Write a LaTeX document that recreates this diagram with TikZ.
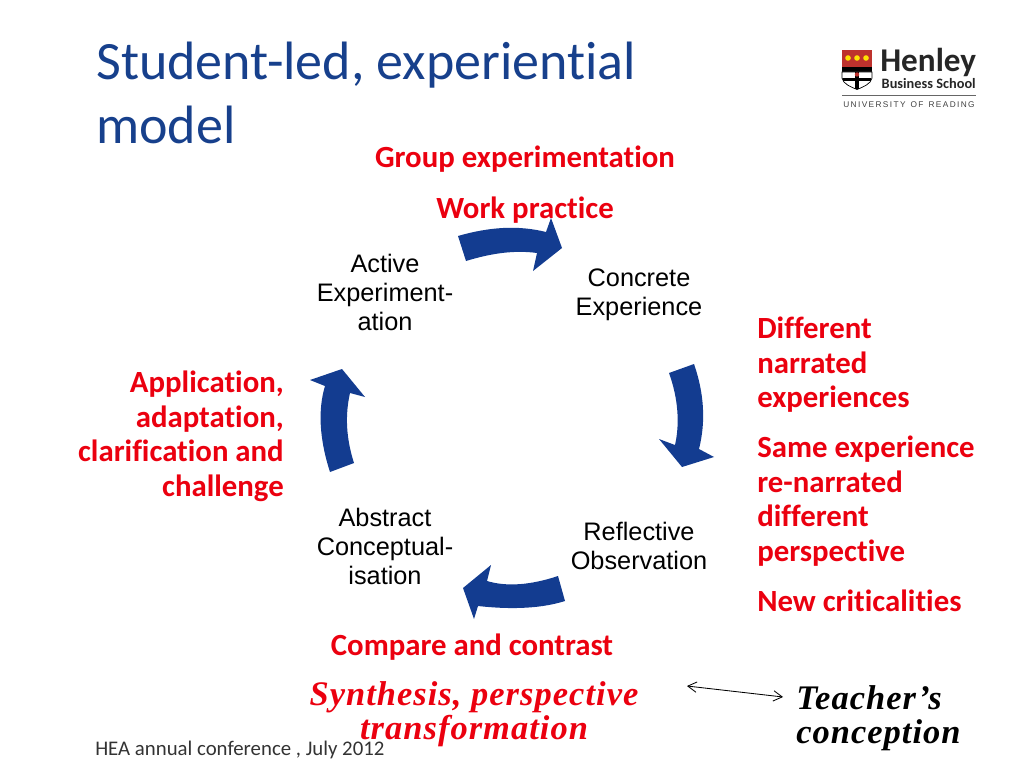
\documentclass[tikz,border=0pt]{standalone}
\usepackage{fontspec}
\usetikzlibrary{arrows.meta}
\setmainfont[Ligatures=NoCommon]{Carlito}
\newfontfamily\armoid{Liberation Sans}
\newfontfamily\handf[LetterSpace=3]{Liberation Serif}
\definecolor{titleblue}{RGB}{23,64,140}
\definecolor{flowblue}{RGB}{19,60,144}
\definecolor{rednote}{RGB}{235,0,15}
\definecolor{shieldred}{RGB}{190,50,45}
\tikzset{
  stage/.style={align=center,font=\armoid\fontsize{18}{20.6}\selectfont},
  note/.style={text=rednote,font=\bfseries\fontsize{21.9}{24.5}\selectfont,inner sep=0pt},
  hand/.style={font=\handf\bfseries\itshape\fontsize{24.5}{24.2}\selectfont,inner sep=0pt},
  flow/.style={fill=flowblue,draw=none}
}
\begin{document}
\begin{tikzpicture}[x=0.025cm,y=-0.025cm]
  \useasboundingbox (0,0) rectangle (1024,768);

  \node[anchor=north west,inner sep=0pt,align=left,text=titleblue,font=\fontsize{38.4}{45}\selectfont] (title) at (96,42) {Student-led, experiential\\model};

  \fill[shieldred] (842,50) rectangle (872,67);
  \fill[black] (842,67) rectangle (872,72);
  \draw[black,fill=white,line width=.5pt] (842,72) -- (872,72) -- (872,78) .. controls (871,84) and (863,87) .. (857,89.5) .. controls (851,87) and (843,84) .. (842,78) -- cycle;
  \fill[black] (855,72) rectangle (859,89);
  \fill[black] (843,78) rectangle (871,81);
  \fill[shieldred] (857,74.5) circle (2.2);
  \foreach \dotx in {848,857,866} \fill[yellow!85!orange] (\dotx,58) circle (2.8);
  \node[anchor=base west,inner sep=0pt,text=black!85,font=\bfseries\fontsize{23.6}{24}\selectfont] (henley) at (880,72) {Henley};
  \node[anchor=base east,inner sep=0pt,text=black!85,font=\bfseries\fontsize{10.2}{12}\selectfont] (business) at (976,89) {Business School};
  \draw[black!60,line width=.5pt] (842,95) -- (976,95);
  \node[anchor=base,inner sep=0pt,text=black!75,font=\armoid\fontsize{5.9}{7}\selectfont] (reading) at (909,108) {U\,N\,I\,V\,E\,R\,S\,I\,T\,Y\, \,O\,F\, \,R\,E\,A\,D\,I\,N\,G};

  \node[stage] (active) at (385,292) {Active\\Experiment-\\ation};
  \node[stage] (concrete) at (639,295) {Concrete\\Experience};
  \node[stage] (reflect) at (639,546) {Reflective\\Observation};
  \node[stage] (abstract) at (385,546) {Abstract\\Conceptual-\\isation};

  \fill[flow] (458,236) .. controls (489,227) and (518,225) .. (546,232) -- (551,218) -- (562,248) -- (533,271) -- (537,253) .. controls (515,250) and (492,253) .. (466,261) -- cycle;
  \fill[flow] (669,373) -- (694,364) .. controls (704,393) and (706,421) .. (699,449) -- (714,457) -- (682,467) -- (659,439) -- (675,445) .. controls (680,423) and (678,398) .. (669,373) -- cycle;
  \fill[flow] (558,576) -- (565,601) .. controls (543,608) and (514,610) .. (478,606) -- (474,619) -- (463,588) -- (491,565) -- (487,581) .. controls (507,587) and (531,585) .. (558,576) -- cycle;
  \fill[flow] (330,472) -- (354,463) .. controls (346,438) and (345,415) .. (350,393) -- (365,397) -- (342,369) -- (310,380) -- (325,386) .. controls (318,409) and (319,438) .. (330,472) -- cycle;

  \node[note,anchor=base] (group) at (525,167) {Group experimentation};
  \node[note,anchor=base] (work) at (525,218) {Work practice};
  \node[note,anchor=north east,align=right] (apply) at (284,371) {Application,\\adaptation,\\clarification and\\challenge};
  \node[note,anchor=north west,align=left] (narrated) at (757,317) {Different\\narrated\\experiences};
  \node[note,anchor=north west,align=left] (same) at (757,436) {Same experience\\re-narrated\\different\\perspective};
  \node[note,anchor=base west] (critical) at (757,611) {New criticalities};
  \node[note,anchor=base] (compare) at (472,655) {Compare and contrast};

  \node[hand,text=rednote,align=center,anchor=north] (synth) at (474,681) {Synthesis, perspective\\transformation};
  \node[hand,align=left,anchor=north west] (teacher) at (796,685) {Teacher’s\\conception};

  \coordinate (convL) at (687,686);
  \coordinate (convR) at (783,697);
  \draw[{Straight Barb[length=2.2mm,width=2.6mm]}-{Straight Barb[length=2.2mm,width=2.6mm]},line width=.6pt] (convL) -- (convR);

  \node[anchor=base west,inner sep=0pt,text=black!80,font=\fontsize{14.8}{16}\selectfont] (footer) at (95,755) {HEA annual conference , July 2012};
\end{tikzpicture}
\end{document}
